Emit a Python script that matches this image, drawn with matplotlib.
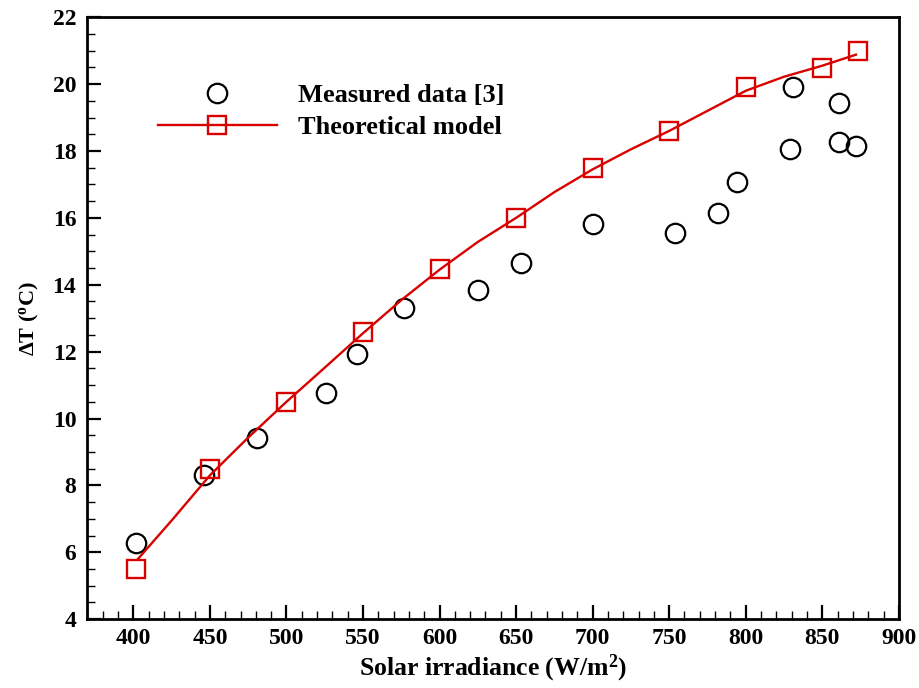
import matplotlib
matplotlib.use('Agg')
import matplotlib.pyplot as plt
from matplotlib.ticker import MultipleLocator
from matplotlib.lines import Line2D

plt.rcParams['font.family'] = ['Liberation Serif', 'DejaVu Serif']
plt.rcParams['font.weight'] = 'bold'
plt.rcParams['mathtext.default'] = 'regular'

# measured data [3]
meas_x = [402, 446, 481, 526, 546, 577, 625, 653, 700, 754, 782, 794, 829, 831, 861, 861, 872]
meas_y = [6.27, 8.3, 9.41, 10.76, 11.93, 13.3, 13.84, 14.66, 15.81, 15.56, 16.14, 17.07,
          18.07, 19.91, 19.42, 18.28, 18.15]

# theoretical model: markers
model_x = [402, 450, 500, 550, 600, 650, 700, 750, 800, 850, 873]
model_y = [5.5, 8.5, 10.5, 12.58, 14.47, 16.0, 17.5, 18.6, 19.9, 20.49, 20.99]

# theoretical model: curve
curve_x = [403, 425, 450, 475, 500, 525, 550, 575, 600, 625, 650, 675, 700,
           725, 750, 775, 800, 825, 850, 872]
curve_y = [5.8, 6.95, 8.3, 9.43, 10.5, 11.52, 12.55, 13.54, 14.45, 15.28, 16.0, 16.77,
           17.45, 18.05, 18.6, 19.2, 19.8, 20.22, 20.55, 20.88]

red = '#d90000'

fig = plt.figure(figsize=(9.2, 6.88), dpi=100)
ax = fig.add_axes([0.095, 0.1, 0.882, 0.875])

ax.plot(meas_x, meas_y, linestyle='none', marker='o', ms=14, mfc='none',
        mec='black', mew=1.6, zorder=3)
ax.plot(curve_x, curve_y, color=red, lw=1.7, zorder=4)
ax.plot(model_x, model_y, linestyle='none', marker='s', ms=13, mfc='none',
        mec=red, mew=1.7, zorder=5)

ax.set_xlim(370, 900)
ax.set_ylim(4, 22)
ax.xaxis.set_major_locator(MultipleLocator(50))
ax.xaxis.set_minor_locator(MultipleLocator(10))
ax.yaxis.set_major_locator(MultipleLocator(2))
ax.yaxis.set_minor_locator(MultipleLocator(0.5))

ax.tick_params(which='both', direction='in', top=False, right=False,
               labelsize=17, width=1.6)
ax.tick_params(which='major', length=10)
ax.tick_params(which='minor', length=6, width=1.0)
ax.tick_params(axis='x', pad=6)
ax.tick_params(axis='y', pad=8)
for s in ax.spines.values():
    s.set_linewidth(2.0)

ax.set_xlabel('Solar irradiance (W/m$^2$)', fontsize=18.5, fontweight='bold', labelpad=3)
ax.set_ylabel('ΔT ($^o$C)', fontsize=16, fontweight='bold', labelpad=8)

handles = [
    Line2D([], [], linestyle='none', marker='o', ms=14, mfc='none', mec='black', mew=1.6),
    Line2D([], [], color=red, lw=1.7, marker='s', ms=13, mfc='none', mec=red, mew=1.7),
]
labels = ['Measured data [3]', 'Theoretical model']
ax.legend(handles, labels, loc='upper left', bbox_to_anchor=(0.087, 0.89), frameon=False,
          fontsize=19, handlelength=4.5, handletextpad=0.8, labelspacing=0.32,
          borderpad=0, borderaxespad=0)

fig.savefig('out.png', dpi=100)
